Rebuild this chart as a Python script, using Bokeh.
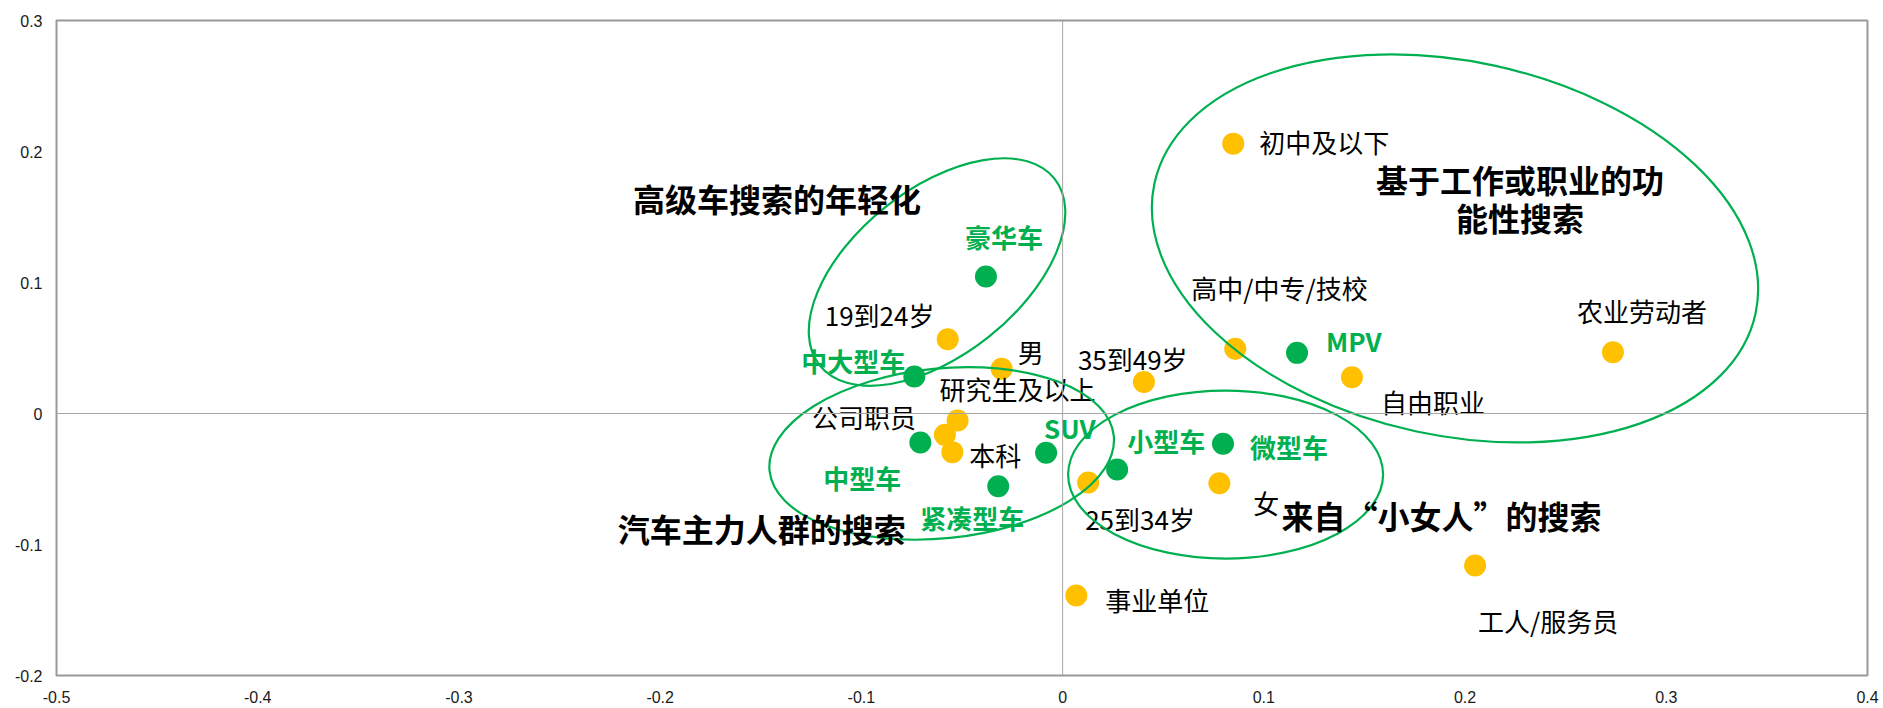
from bokeh.plotting import figure
from bokeh.models import Range1d, FixedTicker, CustomJSTickFormatter, Span, ColumnDataSource
from bokeh.embed import file_html
from bokeh.resources import INLINE
from bokeh.core.properties import value
import math

# ---------------- data ----------------
car_types = ["豪华车", "中大型车", "中型车", "紧凑型车", "SUV", "小型车", "微型车", "MPV"]
car_x = [-0.0381, -0.0737, -0.0707, -0.0320, -0.0082, 0.0271, 0.0797, 0.1165]
car_y = [0.1046, 0.0282, -0.0221, -0.0555, -0.0300, -0.0427, -0.0231, 0.0463]

groups = ["初中及以下", "高中/中专/技校", "农业劳动者", "自由职业", "35到49岁", "19到24岁", "男",
          "研究生及以上", "公司职员", "本科", "25到34岁", "女", "事业单位", "工人/服务员"]
group_x = [0.0848, 0.0858, 0.2735, 0.1438, 0.0404, -0.0571, -0.0303,
           -0.0522, -0.0585, -0.0548, 0.0127, 0.0779, 0.0068, 0.2050]
group_y = [0.2060, 0.0494, 0.0468, 0.0277, 0.0240, 0.0567, 0.0342,
           -0.0054, -0.0163, -0.0295, -0.0527, -0.0532, -0.1390, -0.1160]

x_ticks = [-0.5, -0.4, -0.3, -0.2, -0.1, 0, 0.1, 0.2, 0.3, 0.4]
y_ticks = [-0.2, -0.1, 0, 0.1, 0.2, 0.3]

# cluster ellipses (centre in data units)
cluster_cx = [-0.0624, -0.0601, 0.0810, 0.1950]
cluster_cy = [0.1080, -0.0305, -0.0466, 0.1260]

# cluster titles, each line tied to its cluster
title_lines = ["高级车搜索的年轻化", "汽车主力人群的搜索", "来自“小女人”的搜索", "基于工作或职业的功", "能性搜索"]
title_cluster = [0, 1, 2, 3, 3]

# ---------------- layout / style (screen px) ----------------
car_dx = [-21, -113, -97, -78, -2, 10, 27, 29]
car_dy = [-40, -16, 35, 31, -25, -29, 3, -12]
group_dx = [26, -44, -36, 29, -66, -123, 16, -18, -133, 17, -3, 34, 29, 3]
group_dy = [-2, -61, -42, 24, -24, -25, -17, -32, -18, 2, 36, 19, 4, 55]

ell_w = [300, 346, 315, 615]
ell_h = [166, 170, 168, 374]
ell_angle_deg = [38.5, 5.8, 0.0, -12.2]
title_dx = [-304, -324, 56, 65, 65]
title_dy = [-74, 75, 40, -69, -31]
title_align = ["left", "left", "left", "center", "center"]

GREEN = "#00B050"
ORANGE = "#FFC000"
CJK = "Noto Sans CJK SC"

p = figure(width=1880, height=706, output_backend="svg", toolbar_location=None,
           x_range=Range1d(-0.5, 0.4), y_range=Range1d(-0.2, 0.3),
           min_border_left=56, min_border_right=13, min_border_top=20, min_border_bottom=31)
p.background_fill_color = "white"
p.border_fill_color = "white"
p.outline_line_color = "#999999"
p.outline_line_width = 2
p.xgrid.visible = False
p.ygrid.visible = False

fmt = CustomJSTickFormatter(code="return Math.abs(tick) < 1e-9 ? '0' : tick.toFixed(1);")
p.xaxis.ticker = FixedTicker(ticks=x_ticks)
p.yaxis.ticker = FixedTicker(ticks=y_ticks)
for ax in (p.xaxis[0], p.yaxis[0]):
    ax.formatter = fmt
    ax.axis_line_color = None
    ax.major_tick_line_color = None
    ax.minor_tick_line_color = None
    ax.major_label_text_font = "Liberation Sans"
    ax.major_label_text_font_size = "16px"
    ax.major_label_text_color = "#1a1a1a"
p.xaxis.major_label_standoff = 9
p.yaxis.major_label_standoff = 8

p.add_layout(Span(location=0, dimension="width", line_color="#A6A6A6", line_width=1))
p.add_layout(Span(location=0, dimension="height", line_color="#A6A6A6", line_width=1))

cars = ColumnDataSource(dict(x=car_x, y=car_y, label=car_types, dx=car_dx, dy=car_dy))
grp = ColumnDataSource(dict(x=group_x, y=group_y, label=groups, dx=group_dx, dy=group_dy))
ell = ColumnDataSource(dict(x=cluster_cx, y=cluster_cy, w=ell_w, h=ell_h,
                            a=[math.radians(v) for v in ell_angle_deg]))
tit = ColumnDataSource(dict(x=[cluster_cx[i] for i in title_cluster],
                            y=[cluster_cy[i] for i in title_cluster],
                            title=title_lines, dx=title_dx, dy=title_dy, align=title_align))

p.scatter("x", "y", source=grp, size=22, fill_color=ORANGE, line_color=None)
p.scatter("x", "y", source=cars, size=22, fill_color=GREEN, line_color=None)

p.text("x", "y", text="label", source=grp, x_offset="dx", y_offset="dy",
       text_font=value(CJK), text_font_size="26px", text_color="black",
       text_align="left", text_baseline="middle")
p.text("x", "y", text="label", source=cars, x_offset="dx", y_offset="dy",
       text_font=value(CJK), text_font_size="26px", text_font_style="bold", text_color=GREEN,
       text_align="left", text_baseline="middle")

p.ellipse("x", "y", width="w", height="h", angle="a", source=ell,
          width_units="screen", height_units="screen",
          fill_color=None, line_color=GREEN, line_width=2.2)

p.text("x", "y", text="title", source=tit, x_offset="dx", y_offset="dy",
       text_font=value(CJK), text_font_size="32px", text_font_style="bold", text_color="black",
       text_align="align", text_baseline="middle")

open("out.html", "w").write(file_html(p, INLINE))
